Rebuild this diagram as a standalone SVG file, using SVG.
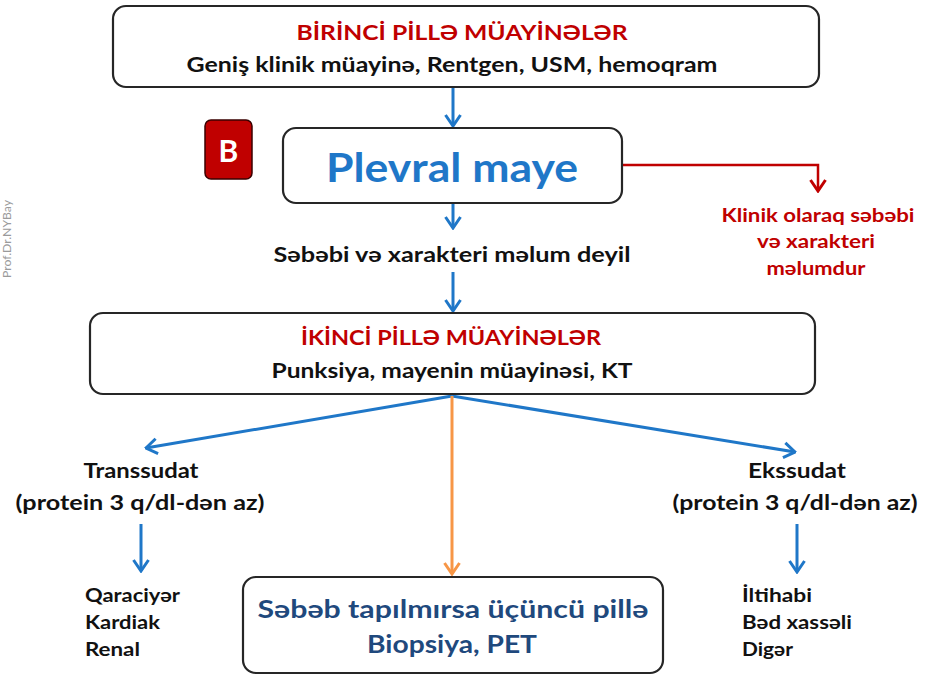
<svg xmlns="http://www.w3.org/2000/svg" width="925" height="677" viewBox="0 0 925 677">
<defs>
<style>
text{font-family:Lato,"Open Sans","Liberation Sans",sans-serif;font-weight:bold}
.box{fill:#fff;stroke:#262626;stroke-width:2.2}
.c{text-anchor:middle}
.red{fill:#c00000}
.blk{fill:#111}
.blue{stroke:#1f77c8;stroke-width:3;fill:none}
</style>
<marker id="ab" viewBox="0 0 14 18" refX="12.5" refY="9" markerWidth="14" markerHeight="18" markerUnits="userSpaceOnUse" orient="auto"><path d="M1.5,1.5 L12.5,9 L1.5,16.5" fill="none" stroke="#1f77c8" stroke-width="3"/></marker>
<marker id="ar" viewBox="0 0 14 18" refX="12.5" refY="9" markerWidth="14" markerHeight="18" markerUnits="userSpaceOnUse" orient="auto"><path d="M1.5,1.5 L12.5,9 L1.5,16.5" fill="none" stroke="#c00000" stroke-width="3"/></marker>
<marker id="ao" viewBox="0 0 14 18" refX="12.5" refY="9" markerWidth="14" markerHeight="18" markerUnits="userSpaceOnUse" orient="auto"><path d="M1.5,1.5 L12.5,9 L1.5,16.5" fill="none" stroke="#f79646" stroke-width="3"/></marker>
</defs>
<rect width="925" height="677" fill="#fff"/>
<text x="11" y="239" transform="rotate(-90 11 239)" font-size="10.5" fill="#9a9a9a" class="c" style="font-weight:normal" textLength="78" lengthAdjust="spacingAndGlyphs">Prof.Dr.NYBay</text>

<g id="connectors">
<line x1="453" y1="88" x2="453" y2="126" class="blue" marker-end="url(#ab)"/>
<line x1="453" y1="204" x2="453" y2="228" class="blue" marker-end="url(#ab)"/>
<line x1="453" y1="272" x2="453" y2="311" class="blue" marker-end="url(#ab)"/>
<path d="M623,165 H818 V191" fill="none" stroke="#c00000" stroke-width="2.5" marker-end="url(#ar)"/>
<line x1="452" y1="396" x2="146" y2="448" class="blue" marker-end="url(#ab)"/>
<line x1="452" y1="396" x2="795" y2="452" class="blue" marker-end="url(#ab)"/>
<line x1="452" y1="396" x2="452" y2="574" stroke="#f79646" stroke-width="3" marker-end="url(#ao)"/>
<line x1="141" y1="524" x2="141" y2="571" class="blue" marker-end="url(#ab)"/>
<line x1="797" y1="524" x2="797" y2="572" class="blue" marker-end="url(#ab)"/>
</g>

<g id="birinci">
<rect x="113" y="6" width="706" height="81" rx="13" class="box"/>
<text x="462" y="40" font-size="20" class="c red" textLength="331" lengthAdjust="spacingAndGlyphs">BİRİNCİ PİLLƏ MÜAYİNƏLƏR</text>
<text x="452" y="72" font-size="20" class="c blk" textLength="531" lengthAdjust="spacingAndGlyphs">Geniş klinik müayinə, Rentgen, USM, hemoqram</text>
</g>

<g id="badge">
<rect x="205" y="120" width="47" height="59" rx="6" fill="#c00000" stroke="#3a0000" stroke-width="1.5"/>
<text x="228.5" y="162" font-size="30" class="c" fill="#fff">B</text>
</g>

<g id="plevral">
<rect x="283" y="128" width="339" height="75" rx="13" class="box"/>
<text x="452" y="182" font-size="40" class="c" fill="#1f77c8" textLength="252" lengthAdjust="spacingAndGlyphs">Plevral maye</text>
</g>

<g id="klinik">
<text x="818" y="222" font-size="19" class="c red" textLength="193" lengthAdjust="spacingAndGlyphs">Klinik olaraq səbəbi</text>
<text x="816" y="248" font-size="19" class="c red" textLength="118" lengthAdjust="spacingAndGlyphs">və xarakteri</text>
<text x="816" y="275" font-size="19" class="c red" textLength="99" lengthAdjust="spacingAndGlyphs">məlumdur</text>
</g>

<g id="mechul">
<text x="452" y="262" font-size="20" class="c blk" textLength="357" lengthAdjust="spacingAndGlyphs">Səbəbi və xarakteri məlum deyil</text>
</g>

<g id="ikinci">
<rect x="90" y="313" width="725" height="81" rx="13" class="box"/>
<text x="451" y="345" font-size="20" class="c red" textLength="300" lengthAdjust="spacingAndGlyphs">İKİNCİ PİLLƏ MÜAYİNƏLƏR</text>
<text x="452" y="378" font-size="20" class="c blk" textLength="361" lengthAdjust="spacingAndGlyphs">Punksiya, mayenin müayinəsi, KT</text>
</g>

<g id="transsudat">
<text x="141" y="478" font-size="20" class="c blk" textLength="115" lengthAdjust="spacingAndGlyphs">Transsudat</text>
<text x="140" y="510" font-size="20" class="c blk" textLength="249" lengthAdjust="spacingAndGlyphs">(protein 3 q/dl-dən az)</text>
</g>

<g id="transsudat-list">
<text x="85" y="602" font-size="18" class="blk" textLength="95" lengthAdjust="spacingAndGlyphs">Qaraciyər</text>
<text x="85" y="629" font-size="18" class="blk" textLength="75" lengthAdjust="spacingAndGlyphs">Kardiak</text>
<text x="85" y="656" font-size="18" class="blk" textLength="55" lengthAdjust="spacingAndGlyphs">Renal</text>
</g>

<g id="ekssudat">
<text x="797" y="478" font-size="20" class="c blk" textLength="98" lengthAdjust="spacingAndGlyphs">Ekssudat</text>
<text x="795" y="510" font-size="20" class="c blk" textLength="245" lengthAdjust="spacingAndGlyphs">(protein 3 q/dl-dən az)</text>
</g>

<g id="ekssudat-list">
<text x="742" y="602" font-size="18" class="blk" textLength="70" lengthAdjust="spacingAndGlyphs">İltihabi</text>
<text x="742" y="629" font-size="18" class="blk" textLength="110" lengthAdjust="spacingAndGlyphs">Bəd xassəli</text>
<text x="742" y="656" font-size="18" class="blk" textLength="51" lengthAdjust="spacingAndGlyphs">Digər</text>
</g>

<g id="ucuncu">
<rect x="243" y="577" width="420" height="96" rx="13" class="box"/>
<text x="453" y="618" font-size="24" class="c" fill="#1f497d" textLength="391" lengthAdjust="spacingAndGlyphs">Səbəb tapılmırsa üçüncü pillə</text>
<text x="452" y="653" font-size="24" class="c" fill="#1f497d" textLength="170" lengthAdjust="spacingAndGlyphs">Biopsiya, PET</text>
</g>
</svg>
